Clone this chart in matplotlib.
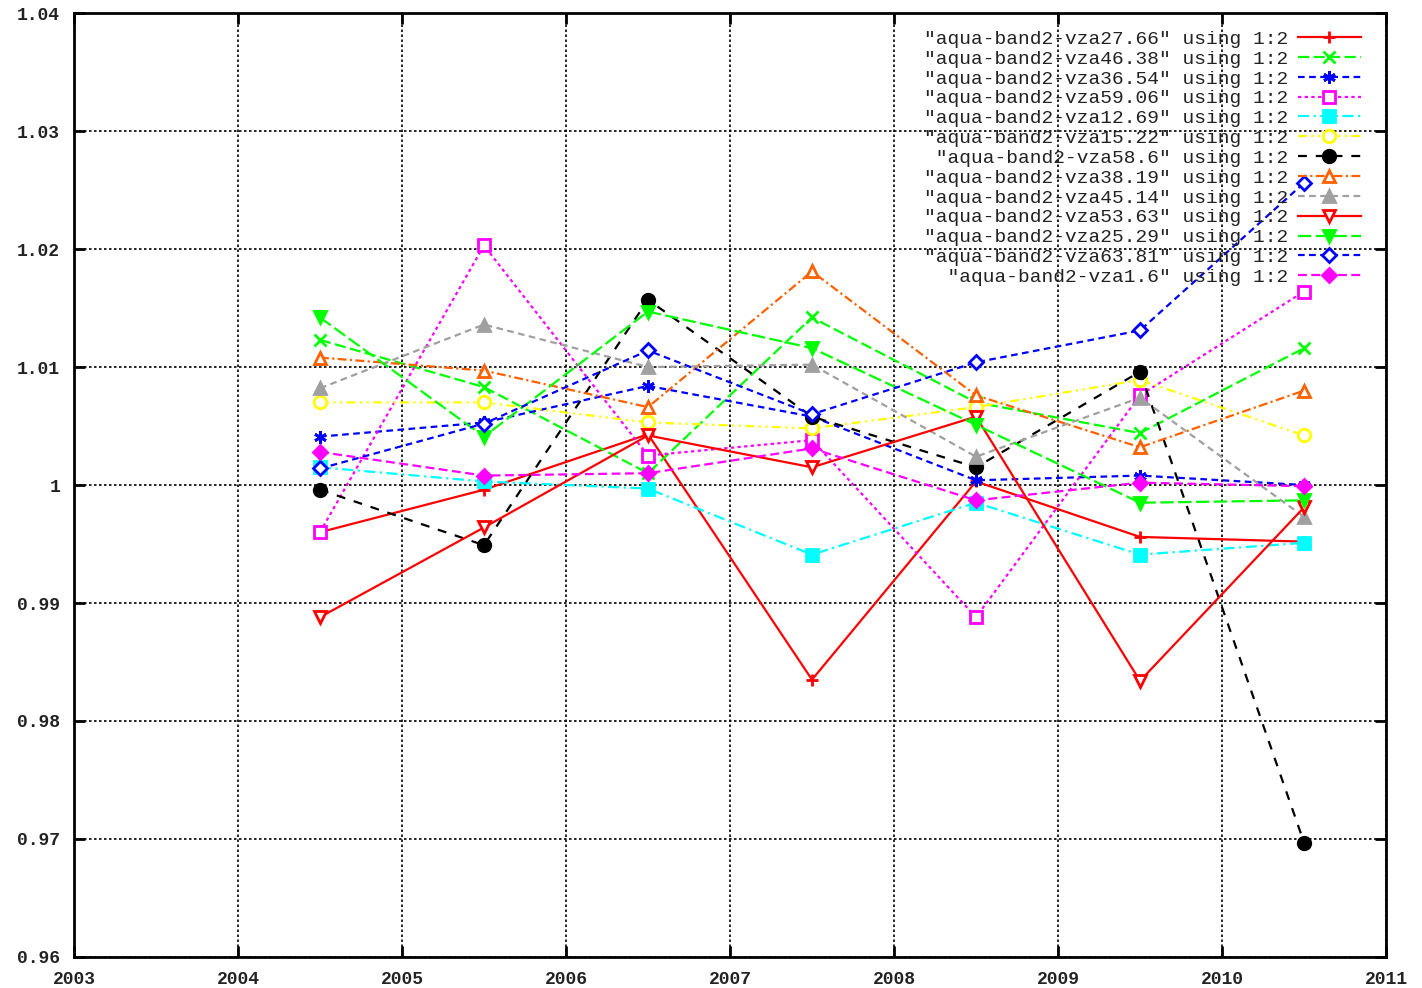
import numpy as np
import matplotlib
matplotlib.use("Agg")
import matplotlib.pyplot as plt
from matplotlib.ticker import FuncFormatter

# yearly ratios for each view zenith angle
years = [2004.5, 2005.5, 2006.5, 2007.5, 2008.5, 2009.5, 2010.5]

vza27_66 = [0.9960, 0.9996, 1.0043, 0.9835, 1.0003, 0.9956, 0.9952]
vza46_38 = [1.0123, 1.0083, 1.0010, 1.0142, 1.0070, 1.0044, 1.0116]
vza36_54 = [1.0041, 1.0053, 1.0084, 1.0058, 1.0004, 1.0008, 1.0000]
vza59_06 = [0.9960, 1.0203, 1.0025, 1.0038, 0.9888, 1.0076, 1.0164]
vza12_69 = [1.0015, 1.0003, 0.9997, 0.9941, 0.9985, 0.9941, 0.9951]
vza15_22 = [1.0070, 1.0070, 1.0053, 1.0048, 1.0066, 1.0089, 1.0042]
vza58_6 = [0.9996, 0.9949, 1.0157, 1.0058, 1.0015, 1.0096, 0.9697]
vza38_19 = [1.0108, 1.0097, 1.0066, 1.0181, 1.0076, 1.0032, 1.0080]
vza45_14 = [1.0082, 1.0136, 1.0100, 1.0102, 1.0024, 1.0074, 0.9973]
vza53_63 = [0.9888, 0.9964, 1.0042, 1.0015, 1.0058, 0.9834, 0.9981]
vza25_29 = [1.0142, 1.0041, 1.0147, 1.0116, 1.0051, 0.9985, 0.9987]
vza63_81 = [1.0014, 1.0052, 1.0114, 1.0060, 1.0104, 1.0131, 1.0256]
vza1_6 = [1.0028, 1.0008, 1.0010, 1.0031, 0.9987, 1.0002, 0.9999]

names = ["27.66", "46.38", "36.54", "59.06", "12.69", "15.22", "58.6",
         "38.19", "45.14", "53.63", "25.29", "63.81", "1.6"]
series = [vza27_66, vza46_38, vza36_54, vza59_06, vza12_69, vza15_22, vza58_6,
          vza38_19, vza45_14, vza53_63, vza25_29, vza63_81, vza1_6]

# gnuplot style: colour, marker, filled, dash pattern
styles = [
    ("#ff0000", "+", True, "-"),
    ("#00ff00", "x", True, (0, (5, 2))),
    ("#0000ff", (6, 2, 0), True, (0, (3, 2))),
    ("#ff00ff", "s", False, (0, (1.5, 1.5))),
    ("#00ffff", "s", True, (0, (5, 2, 1, 2))),
    ("#ffff00", "o", False, (0, (4, 2, 1, 2, 1, 2))),
    ("#000000", "o", True, (0, (4, 4))),
    ("#ff6000", "^", False, (0, (4, 1.5, 1, 1.5))),
    ("#a0a0a0", "^", True, (0, (3, 2))),
    ("#ff0000", "v", False, "-"),
    ("#00ff00", "v", True, (0, (6, 2))),
    ("#0000ff", "D", False, (0, (3, 2))),
    ("#ff00ff", "D", True, (0, (4, 2))),
]

mono = "Liberation Mono"

fig = plt.figure(figsize=(14.22, 9.88), dpi=100)
ax = fig.add_axes([0.052, 0.0314, 0.9227, 0.9554])

labelw = max(len(n) for n in names)
for name, vals, (col, mk, filled, ls) in zip(names, series, styles):
    # pad with spaces so the monospace labels line up on the right
    label = " " * (labelw - len(name)) + '"aqua-band2-vza%s" using 1:2' % name
    msize = 9 if mk != "D" else 7
    ax.plot(years, vals, color=col, linestyle=ls, linewidth=1.6,
            marker=mk, markersize=msize, markeredgewidth=2.0,
            markerfacecolor=col if filled else "white",
            markeredgecolor=col, label=label)

ax.set_xlim(2003, 2011)
ax.set_ylim(0.96, 1.04)
ax.set_xticks(np.arange(2003, 2012, 1))
ax.set_yticks(np.arange(0.96, 1.0401, 0.01))
ax.xaxis.set_major_formatter(FuncFormatter(lambda v, p: "%d" % round(v)))
ax.yaxis.set_major_formatter(FuncFormatter(lambda v, p: "%g" % round(v, 2)))

ax.grid(True, color="black", linestyle=(0, (1.5, 1.5)), linewidth=1.2)
ax.tick_params(direction="in", length=8, width=2, top=True, right=True,
               labelsize=13, pad=10)
for lab in ax.get_xticklabels() + ax.get_yticklabels():
    lab.set_fontfamily(mono)
    lab.set_fontweight("bold")
    lab.set_color("#222222")
for sp in ax.spines.values():
    sp.set_linewidth(2)

leg = ax.legend(loc="upper right", bbox_to_anchor=(0.9865, 0.99),
                frameon=False, markerfirst=False, handlelength=3.2,
                handletextpad=0.5, labelspacing=0.115, borderaxespad=0,
                prop={"family": mono, "size": 14})
for t in leg.get_texts():
    t.set_color("#222222")

fig.savefig("out.png", dpi=100)
